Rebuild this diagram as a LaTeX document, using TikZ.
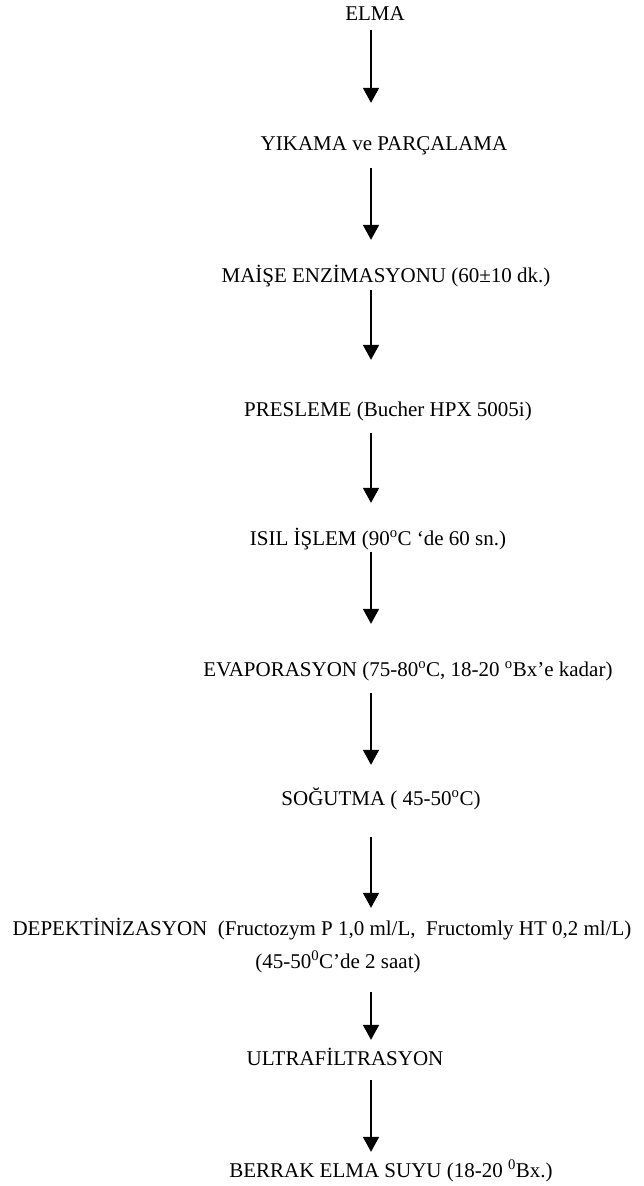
\documentclass[tikz,border=0pt]{standalone}
\usepackage{fontspec}
\setmainfont{Liberation Serif}
\usepackage{tikz}
\usetikzlibrary{arrows.meta}

\begin{document}
\begin{tikzpicture}[x=1pt, y=-1pt, font=\fontsize{21}{25}\selectfont,
    stage/.style={inner sep=0pt, text height=15pt, text depth=5pt, anchor=base},
    flow/.style={-{Triangle[width=16pt,length=15pt]}, line width=1.8pt}]
        \useasboundingbox (0,0) rectangle (643,1186);
        \coordinate (axis) at (371,0);
        \node[stage] (elma) at (375,20) {ELMA};
        \node[stage] (yikama) at (384,150) {YIKAMA ve PARÇALAMA};
        \node[stage] (maise) at (386,282) {MAİŞE ENZİMASYONU (60±10 dk.)};
        \node[stage] (presleme) at (388,416) {PRESLEME (Bucher HPX 5005i)};
        \node[stage] (isil) at (378,545) {ISIL İŞLEM (90\textsuperscript{o}C ‘de 60 sn.)};
        \node[stage] (evap) at (408,676) {EVAPORASYON (75-80\textsuperscript{o}C, 18-20 \textsuperscript{o}Bx’e kadar)};
        \node[stage] (sogutma) at (381,805) {SOĞUTMA ( 45-50\textsuperscript{o}C)};
        \node[stage] (depekt) at (322,935) {DEPEKTİNİZASYON\ \ (Fructozym P 1,0 ml/L,\ \ Fructomly HT 0,2 ml/L)};
        \node[stage] (sure) at (338,968) {(45-50\textsuperscript{0}C’de 2 saat)};
        \node[stage] (ultra) at (345,1065) {ULTRAFİLTRASYON};
        \node[stage] (berrak) at (391,1177) {BERRAK ELMA SUYU (18-20 \textsuperscript{0}Bx.)};
        \draw[flow, shorten <=5pt, shorten >=32pt] (elma.south -| axis) -- (yikama.north -| axis);
        \draw[flow, shorten <=13pt, shorten >=27pt] (yikama.south -| axis) -- (maise.north -| axis);
        \draw[flow, shorten <=3pt, shorten >=41pt] (maise.south -| axis) -- (presleme.north -| axis);
        \draw[flow, shorten <=12pt, shorten >=27pt] (presleme.south -| axis) -- (isil.north -| axis);
        \draw[flow, shorten <=2pt, shorten >=37pt] (isil.south -| axis) -- (evap.north -| axis);
        \draw[flow, shorten <=12pt, shorten >=25pt] (evap.south -| axis) -- (sogutma.north -| axis);
        \draw[flow, shorten <=27pt, shorten >=12pt] (sogutma.south -| axis) -- (depekt.north -| axis);
        \draw[flow, shorten <=19pt, shorten >=10pt] (sure.south -| axis) -- (ultra.north -| axis);
        \draw[flow, shorten <=10pt, shorten >=10pt] (ultra.south -| axis) -- (berrak.north -| axis);
      \end{tikzpicture}
\end{document}
